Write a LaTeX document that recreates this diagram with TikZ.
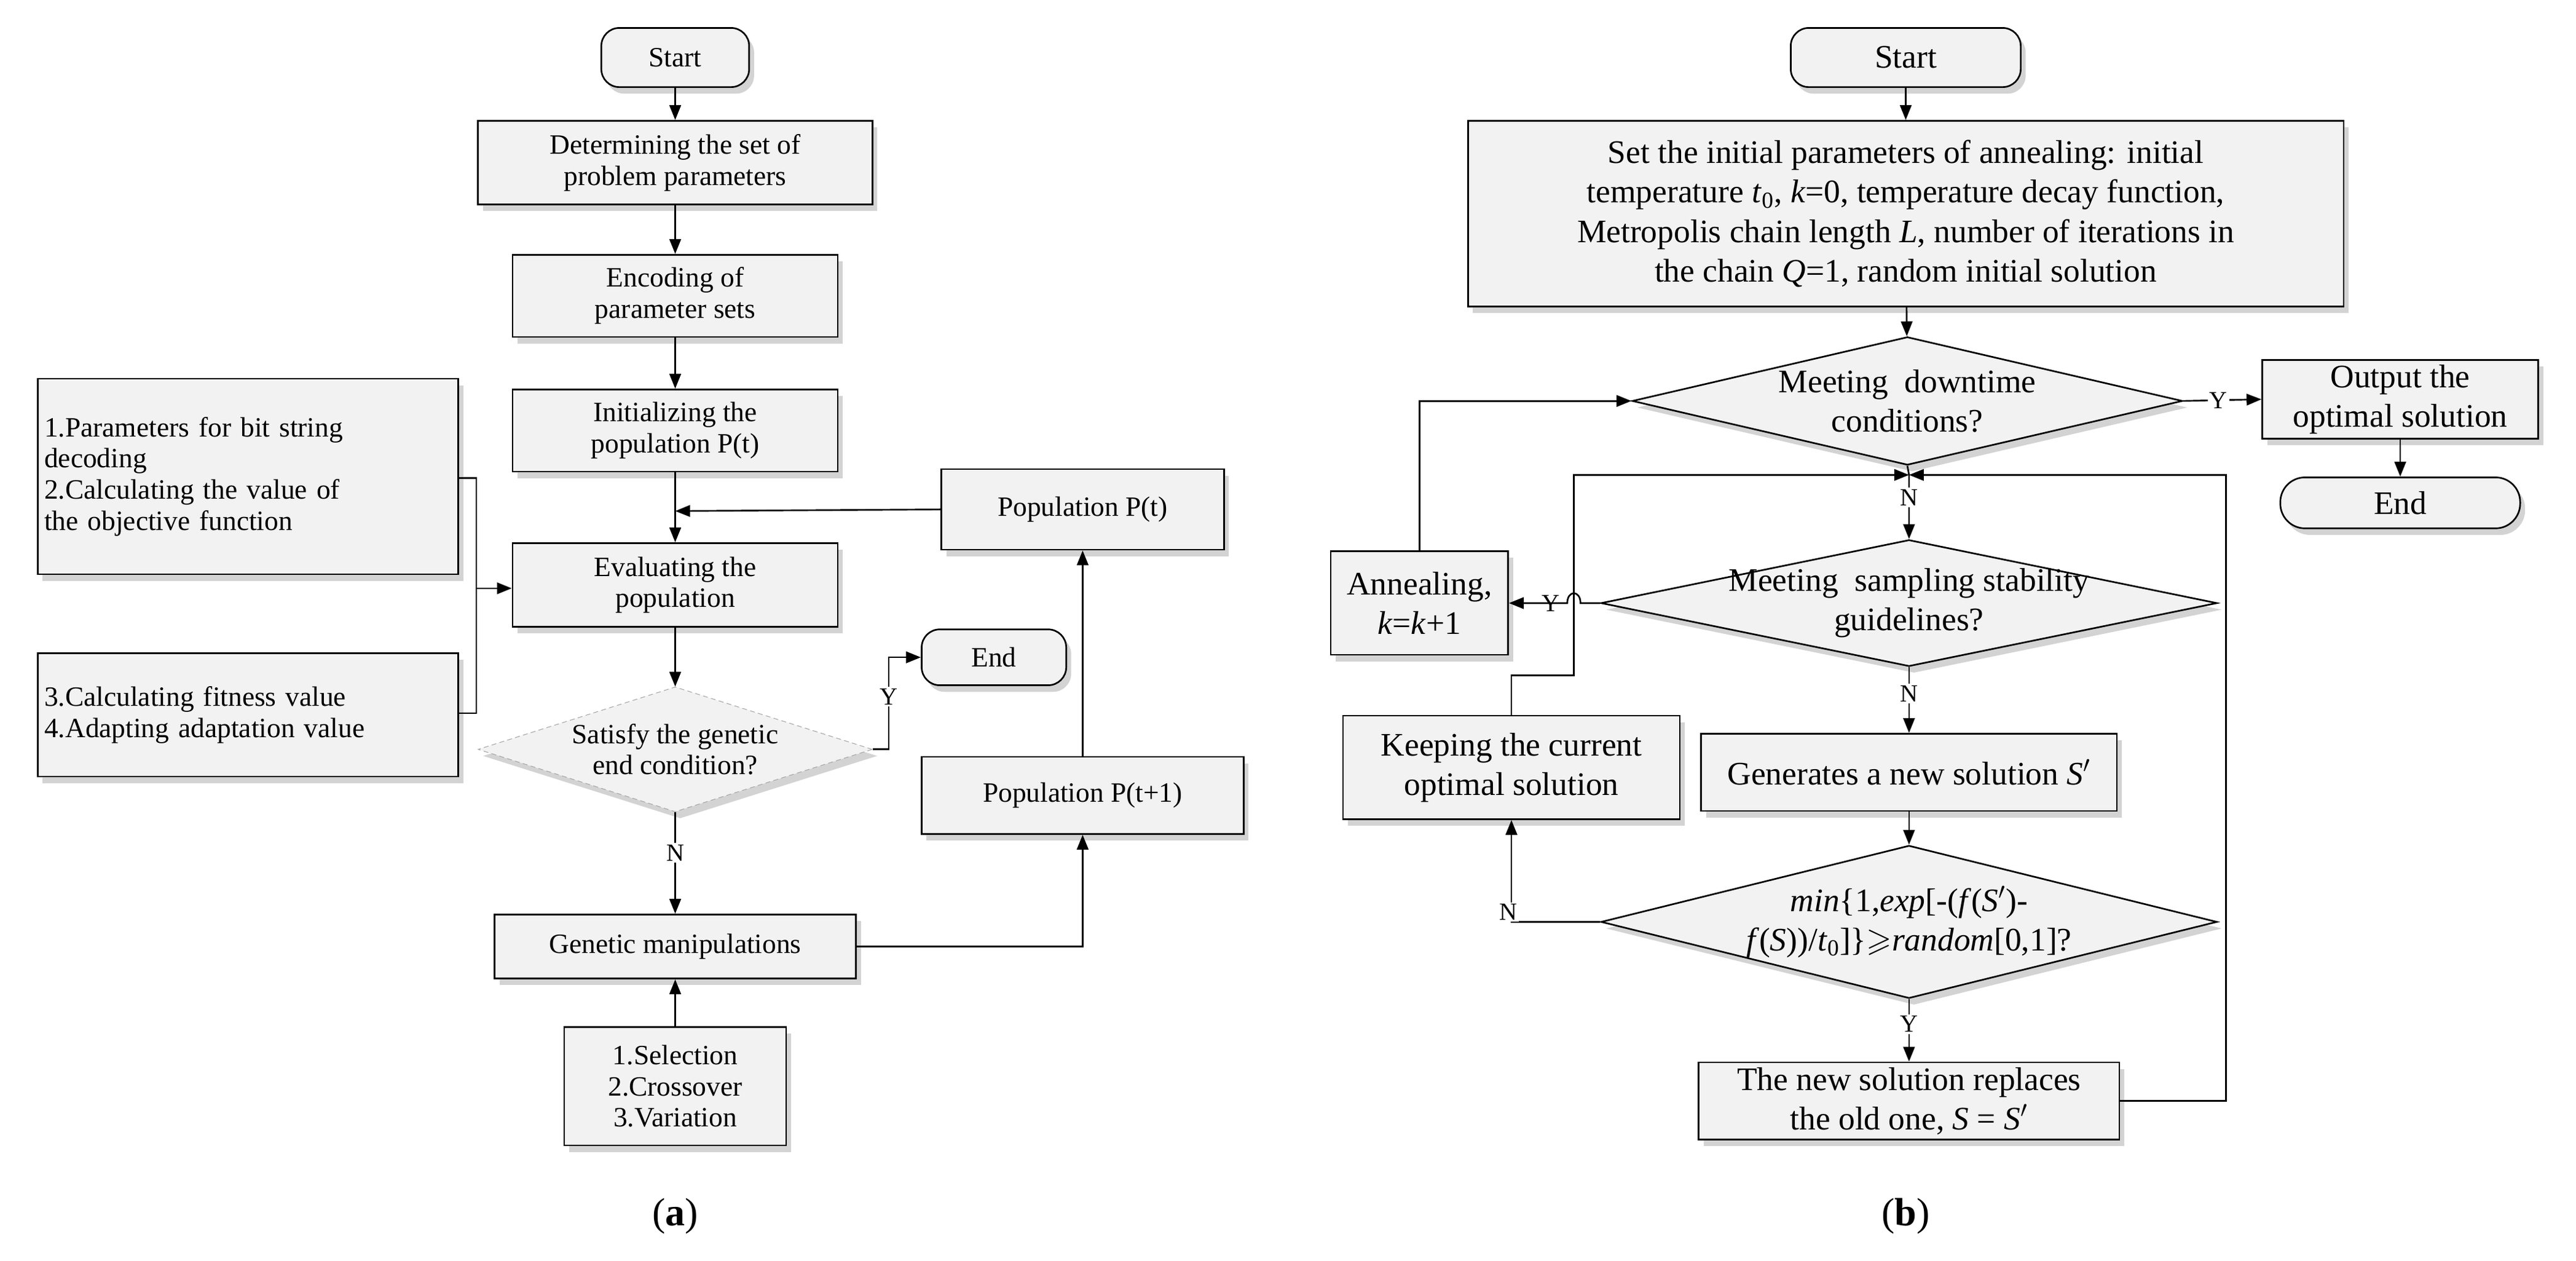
\documentclass[tikz,border=0pt]{standalone}
\usepackage{amssymb}
\usepackage{fontspec}
\setmainfont{Liberation Serif}
\usetikzlibrary{shapes.geometric,arrows.meta,shadows}
\begin{document}
\begin{tikzpicture}[x=1pt,y=-1pt,
  sh/.style={drop shadow={shadow xshift=3pt,shadow yshift=-4pt,opacity=.35,fill=gray}},
  box/.style={draw,line width=1pt,fill=black!5,sh,inner sep=0pt,align=center},
  ta/.style={font=\fontsize{17}{19}\selectfont},
  tb/.style={font=\fontsize{20}{24}\selectfont},
  term/.style={box,rounded corners=11pt},
  dia/.style={diamond,draw,line width=1pt,fill=black!5,sh,inner sep=0pt},
  ar/.style={-{Triangle[length=9pt,width=7pt]},line width=1pt},
  ln/.style={line width=1pt},
  lab/.style={fill=white,inner sep=1pt,font=\fontsize{15}{15}\selectfont}]
\useasboundingbox (0,0) rectangle (1568,767);
% ---------- (a) ----------
\node[term,ta,minimum width=90pt,minimum height=36pt] (aS) at (411,35) {Start};
\node[box,ta,minimum width=240pt,minimum height=51pt] (a1) at (411,99) {Determining the set of\\problem parameters};
\node[box,ta,minimum width=198pt,minimum height=50pt] (a2) at (411,180) {Encoding of\\parameter sets};
\node[box,ta,minimum width=198pt,minimum height=50pt] (a3) at (411,262) {Initializing the\\population P(t)};
\node[box,ta,minimum width=198pt,minimum height=51pt] (a4) at (411,356) {Evaluating the\\population};
\node[box,ta,minimum width=172pt,minimum height=49pt] (pt) at (659,310) {Population P(t)};
\node[box,ta,minimum width=256pt,minimum height=119pt,align=left,text width=248pt] (l1) at (151,290) {1.Parameters for bit string\\decoding\\2.Calculating the value of\\the objective function};
\node[box,ta,minimum width=256pt,minimum height=75pt,align=left,text width=248pt] (l2) at (151,435) {3.Calculating fitness value\\4.Adapting adaptation value};
\node[diamond,draw=gray!70,densely dashed,fill=black!5,sh,minimum width=240pt,minimum height=76pt,inner sep=0pt] (ad) at (411,456) {};
\node[ta,align=center] at (ad) {Satisfy the genetic\\end condition?};
\node[term,ta,minimum width=88pt,minimum height=34pt] (aE) at (605,400) {End};
\node[box,ta,minimum width=196pt,minimum height=47pt] (p1) at (659,484) {Population P(t+1)};
\node[box,ta,minimum width=220pt,minimum height=39pt] (gm) at (411,576) {Genetic manipulations};
\node[box,ta,minimum width=135pt,minimum height=72pt] (sel) at (411,661) {1.Selection\\2.Crossover\\3.Variation};
\node[font=\fontsize{24}{24}\selectfont] (la) at (411,740) {(\textbf{a})};
\draw[ar] (aS) -- (a1);
\draw[ar] (a1) -- (a2);
\draw[ar] (a2) -- (a3);
\draw[ar] (a3) -- (a4);
\coordinate (j1) at (411,311);
\draw[ar] (pt.west) -- (j1);
\coordinate (br) at (290,358);
\draw[ln] (l1.east |- 0,291) -- (290,291) -- (290,434) -- (l2.east |- 0,434);
\draw[ar] (br) -- (a4.west |- br);
\draw[ar] (a4) -- (ad);
\coordinate (yc) at (541,456);
\draw[ar] (ad.east) -- (yc) -- (541,400) -- (aE.west);
\node[lab] at (541,424) {Y};
\draw[ar] (ad.south) -- node[lab,pos=.4]{N} (gm.north);
\draw[ar] (gm.east) -| (p1.south);
\draw[ar] (p1.north) -- (pt.south);
\draw[ar] (sel) -- (gm);
% ---------- (b) ----------
\node[term,tb,minimum width=140pt,minimum height=36pt] (bS) at (1160,35) {Start};
\node[box,tb,minimum width=533pt,minimum height=113pt] (b1) at (1160,130) {Set the initial parameters of annealing: initial\\temperature \textit{t}\textsubscript{0}, \textit{k}=0, temperature decay function,\\Metropolis chain length \textit{L}, number of iterations in\\the chain \textit{Q}=1, random initial solution};
\node[dia,minimum width=335pt,minimum height=78pt] (d1) at (1161,244) {};
\node[tb,align=center] at (d1) {Meeting\ \ downtime\\conditions?};
\node[box,tb,minimum width=168pt,minimum height=48pt] (out) at (1461,243) {Output the\\optimal solution};
\node[term,tb,minimum width=146pt,minimum height=31pt,rounded corners=15pt] (bE) at (1461,306) {End};
\node[dia,minimum width=375pt,minimum height=77pt] (d2) at (1162,367) {};
\node[tb,align=center] at (d2) {Meeting\ \ sampling stability\\guidelines?};
\node[box,tb,minimum width=108pt,minimum height=63pt] (ann) at (864,367) {Annealing,\\\textit{k}=\textit{k}+1};
\node[box,tb,minimum width=253pt,minimum height=47pt] (gen) at (1162,470) {Generates a new solution \textit{S}$'$};
\node[box,tb,minimum width=205pt,minimum height=63pt] (keep) at (920,467) {Keeping the current\\optimal solution};
\node[dia,minimum width=375pt,minimum height=93pt] (d3) at (1162,561) {};
\node[tb,align=center] at (d3) {\textit{min}\{1,\textit{exp}[-(\textit{f}(\textit{S}$'$)-\\\textit{f}(\textit{S}))/\textit{t}\textsubscript{0}]\}$\geqslant$\textit{random}[0,1]?};
\node[box,tb,minimum width=256pt,minimum height=47pt] (new) at (1162,670) {The new solution replaces\\the old one, \textit{S} = \textit{S}$'$};
\node[font=\fontsize{24}{24}\selectfont] (lb) at (1160,740) {(\textbf{b})};
\draw[ar] (bS) -- (b1);
\draw[ar] (b1) -- (d1);
\draw[ar] (d1.east) -- node[lab,pos=.45]{Y} (out.west);
\draw[ar] (out) -- (bE);
\coordinate (m) at (1162,289);
\draw[ar] (d1.south) -- (m) -- node[lab,pos=.35]{N} (d2.north);
\draw[ar] (d2.south) -- node[lab,pos=.4]{N} (gen.north);
\draw[ar] (gen) -- (d3);
\draw[ar] (d3.south) -- node[lab,pos=.4]{Y} (new.north);
\draw[ar] (new.east) -- (1355,670) -- (1355,289) -- (m);
\draw[ar] (keep.north) -- (920,411) -- (958,411) -- (958,289) -- (m);
\draw[ar] (d2.west) -- (962,367) .. controls (962,359) and (954,359) .. (954,367) -- (ann.east);
\node[lab,fill=none] at (944,367) {Y};
\draw[ar] (ann.north) -- (864,244) -- (d1.west);
\draw[ar] (d3.west) -- (920,561) -- (keep.south);
\node[lab] at (918,555) {N};
\end{tikzpicture}
\end{document}
